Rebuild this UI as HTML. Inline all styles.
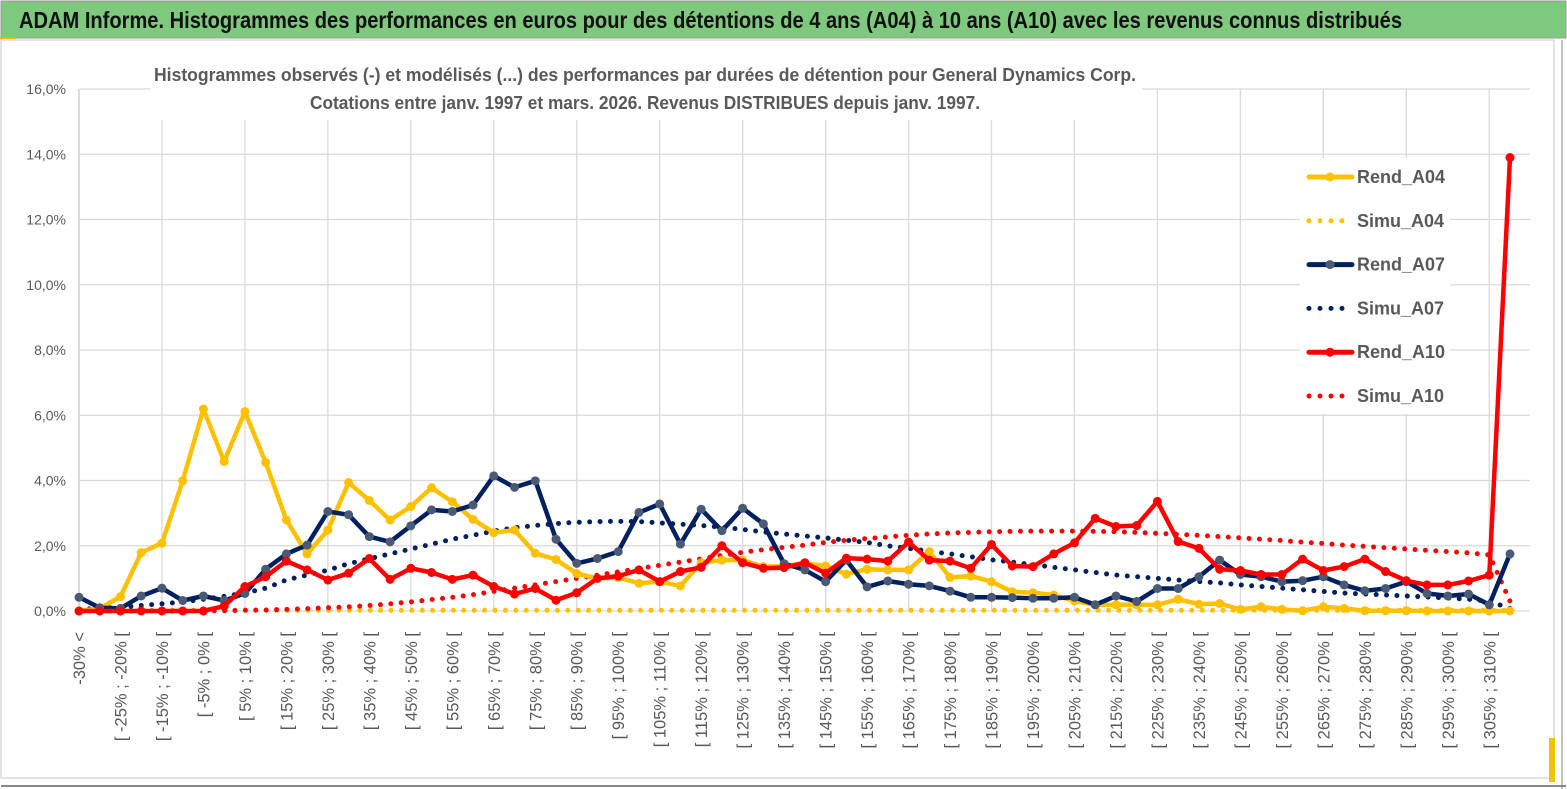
<!DOCTYPE html>
<html><head><meta charset="utf-8"><style>
html,body{margin:0;padding:0;background:#fff;width:1567px;height:789px;overflow:hidden}
svg{display:block;font-family:"Liberation Sans",sans-serif}
</style></head><body>
<svg id="chart" width="1567" height="789" viewBox="0 0 1567 789">
<rect x="0" y="0" width="1567" height="789" fill="#fff"/>
<rect x="1" y="1" width="1565" height="37" fill="#7ec97e" stroke="#9a9a9a" stroke-width="1"/>
<rect x="0" y="37" width="16" height="3" fill="#f2b800"/>
<text x="19" y="28" font-size="23" font-weight="bold" fill="#111" textLength="1383" lengthAdjust="spacingAndGlyphs">ADAM Informe. Histogrammes des performances en euros pour des détentions de 4 ans (A04) à 10 ans (A10) avec les revenus connus distribués</text>
<rect x="1" y="40" width="1553" height="738" fill="none" stroke="#e3e3e3" stroke-width="2"/>
<line x1="1" y1="786" x2="1566" y2="786" stroke="#888" stroke-width="2"/>
<line x1="1562" y1="40" x2="1562" y2="789" stroke="#888" stroke-width="1"/>
<rect x="1549" y="738" width="6" height="44" fill="#f2c400"/>
<g id="grid"></g>
<g id="axes"></g>
<rect x="150" y="58" width="992" height="62" fill="#fff"/>
<text x="645" y="81" text-anchor="middle" font-size="18" font-weight="bold" fill="#595959" textLength="982" lengthAdjust="spacingAndGlyphs">Histogrammes observés (-) et modélisés (...) des performances par durées de détention pour General Dynamics Corp.</text>
<text x="645" y="109" text-anchor="middle" font-size="18" font-weight="bold" fill="#595959" textLength="670" lengthAdjust="spacingAndGlyphs">Cotations entre janv. 1997 et mars. 2026. Revenus DISTRIBUES depuis janv. 1997.</text>
<g id="series"></g>
<g id="legend"></g>
</svg>
<script>
const categories = ["-30% <"];
for (let a = -30; a < 310; a += 5) categories.push("[ " + a + "% ; " + (a + 5) + "% [");
categories.push("> 310%");
const yTicks = [0, 2, 4, 6, 8, 10, 12, 14, 16];
const yTickLabels = ["0,0%", "2,0%", "4,0%", "6,0%", "8,0%", "10,0%", "12,0%", "14,0%", "16,0%"];
const rendA04 = [0,0.08,0.44,1.79,2.08,3.99,6.19,4.58,6.11,4.55,2.79,1.75,2.48,3.94,3.39,2.79,3.2,3.78,3.35,2.81,2.4,2.48,1.77,1.58,1.15,1.0,1.03,0.85,0.9,0.77,1.48,1.56,1.56,1.36,1.37,1.46,1.38,1.13,1.28,1.26,1.26,1.82,1.03,1.07,0.9,0.59,0.56,0.49,0.31,0.19,0.19,0.19,0.19,0.36,0.21,0.23,0.05,0.13,0.05,0.01,0.13,0.08,0.01,0.01,0.01,0,0,0,0,0];
const simuA04 = [0.02,0.02,0.02,0.02,0.02,0.02,0.02,0.02,0.02,0.02,0.02,0.02,0.02,0.02,0.02,0.02,0.02,0.02,0.02,0.02,0.02,0.02,0.02,0.02,0.02,0.02,0.02,0.02,0.02,0.02,0.02,0.02,0.02,0.02,0.02,0.02,0.02,0.02,0.02,0.02,0.02,0.02,0.02,0.02,0.02,0.02,0.02,0.02,0.02,0.02,0.02,0.02,0.02,0.02,0.02,0.02,0.02,0.02,0.02,0.02,0.02,0.02,0.02,0.02,0.02,0.02,0.02,0.02,0.02,0.02];
const rendA07 = [0.42,0.1,0.08,0.46,0.7,0.32,0.46,0.32,0.54,1.28,1.75,2.02,3.05,2.95,2.28,2.12,2.61,3.1,3.05,3.25,4.14,3.79,3.99,2.2,1.46,1.61,1.82,3.02,3.28,2.05,3.12,2.46,3.15,2.67,1.45,1.26,0.9,1.56,0.74,0.92,0.82,0.77,0.61,0.42,0.42,0.41,0.39,0.39,0.42,0.19,0.46,0.29,0.69,0.69,1.05,1.56,1.12,1.05,0.9,0.93,1.05,0.8,0.62,0.69,0.9,0.54,0.46,0.52,0.19,1.75];
const simuA07 = [0.05,0.08,0.12,0.17,0.22,0.28,0.36,0.45,0.55,0.7,0.95,1.1,1.25,1.45,1.6,1.75,1.9,2.05,2.2,2.32,2.45,2.55,2.62,2.68,2.72,2.74,2.75,2.74,2.7,2.66,2.62,2.57,2.5,2.42,2.36,2.3,2.24,2.17,2.1,2.0,1.92,1.83,1.75,1.66,1.57,1.5,1.42,1.34,1.26,1.18,1.1,1.05,1.0,0.95,0.9,0.86,0.8,0.75,0.7,0.65,0.6,0.55,0.52,0.49,0.46,0.43,0.4,0.36,0.3,0.08];
const rendA10 = [0,0,0,0,0,0,0,0.15,0.75,1.05,1.53,1.26,0.95,1.16,1.61,0.97,1.31,1.18,0.97,1.1,0.75,0.52,0.69,0.33,0.56,1.0,1.07,1.26,0.9,1.21,1.34,2.0,1.48,1.31,1.33,1.48,1.16,1.62,1.59,1.53,2.11,1.56,1.53,1.31,2.04,1.38,1.36,1.75,2.09,2.84,2.59,2.62,3.36,2.13,1.92,1.28,1.24,1.12,1.12,1.59,1.24,1.36,1.59,1.21,0.93,0.8,0.8,0.92,1.1,13.9];
const simuA10 = [0,0,0,0,0,0,0.01,0.01,0.02,0.03,0.05,0.07,0.1,0.13,0.17,0.22,0.28,0.35,0.42,0.5,0.6,0.7,0.8,0.9,1.0,1.1,1.2,1.3,1.4,1.5,1.6,1.7,1.8,1.88,1.95,2.02,2.1,2.17,2.22,2.27,2.32,2.36,2.39,2.41,2.43,2.44,2.45,2.45,2.45,2.44,2.43,2.41,2.38,2.35,2.32,2.28,2.24,2.2,2.16,2.11,2.07,2.02,1.98,1.94,1.9,1.86,1.82,1.78,1.72,0.3];

const NS = "http://www.w3.org/2000/svg";
const X0 = 79, X1 = 1510, Y0 = 611, Y1 = 89, YMAX = 16;
function xScale(i) { return X0 + (X1 - X0) * i / (categories.length - 1); }
function yScale(v) { return Y0 - (Y0 - Y1) * v / YMAX; }
function mk(tag, attrs, parent) {
  const e = document.createElementNS(NS, tag);
  for (const k in attrs) e.setAttribute(k, attrs[k]);
  parent.appendChild(e);
  return e;
}
const grid = document.getElementById("grid");
const axes = document.getElementById("axes");
yTicks.forEach((t, k) => {
  const ln = mk("line", {x1: X0, x2: 1530, y1: yScale(t), y2: yScale(t), stroke: "#d9d9d9", "stroke-width": 1.3}, grid);
  
  
  const tx = mk("text", {x: 66, y: yScale(t) + 5, "text-anchor": "end", "font-size": 14, fill: "#595959"}, axes);
  tx.textContent = yTickLabels[k];
  
  
});
for (let i = 0; i < categories.length; i += 4) {
  const ln = mk("line", {x1: xScale(i), x2: xScale(i), y1: Y1, y2: Y0, stroke: "#d9d9d9", "stroke-width": 1.3}, grid);
  
  
}
const yAxis = mk("line", {x1: X0, x2: X0, y1: Y1, y2: Y0, stroke: "#d0d0d0", "stroke-width": 1.3}, axes);


categories.forEach((c, i) => {
  if (i % 2) return;
  const x = xScale(i) + 6, y = 632;
  const tx = mk("text", {x: x, y: y, "text-anchor": "end", "font-size": 16.5, fill: "#595959", transform: "rotate(-90 " + x + " " + y + ")"}, axes);
  tx.textContent = c;
  
  
});

const seriesG = document.getElementById("series");
function drawDotted(vals, color, name) {
  const d = vals.map((v, i) => (i ? "L" : "M") + xScale(i).toFixed(1) + " " + yScale(v).toFixed(1)).join(" ");
  const p = mk("path", {d: d, fill: "none", stroke: color, "stroke-width": 5, "stroke-linecap": "round", "stroke-dasharray": "0 10.4"}, seriesG);
  
  
}
function drawSolid(vals, color, mfill, name) {
  const d = vals.map((v, i) => (i ? "L" : "M") + xScale(i).toFixed(1) + " " + yScale(v).toFixed(1)).join(" ");
  const p = mk("path", {d: d, fill: "none", stroke: color, "stroke-width": 4.5, "stroke-linejoin": "round"}, seriesG);
  
  
  vals.forEach((v, i) => {
    const c = mk("circle", {cx: xScale(i), cy: yScale(v), r: 4.5, fill: mfill}, seriesG);
    
    
  });
}
drawDotted(simuA04, "#ffc000", "simu-a04-line");
drawDotted(simuA07, "#002060", "simu-a07-line");
drawDotted(simuA10, "#ff0000", "simu-a10-line");
drawSolid(rendA04, "#ffc000", "#ffc000", "rend-a04-line");
drawSolid(rendA07, "#002060", "#4a5a75", "rend-a07-line");
drawSolid(rendA10, "#ff0000", "#ff0000", "rend-a10-line");

const legend = document.getElementById("legend");
const lbg = mk("rect", {x: 1300, y: 158, width: 150, height: 256, fill: "#fff"}, legend);


const legItems = [["Rend_A04", "#ffc000", "#ffc000", false], ["Simu_A04", "#ffc000", "", true], ["Rend_A07", "#002060", "#4a5a75", false], ["Simu_A07", "#002060", "", true], ["Rend_A10", "#ff0000", "#ff0000", false], ["Simu_A10", "#ff0000", "", true]];
legItems.forEach((it, k) => {
  const y = 177 + k * 43.8;
  if (it[3]) {
    const l = mk("line", {x1: 1309, x2: 1353, y1: y, y2: y, stroke: it[1], "stroke-width": 5, "stroke-linecap": "round", "stroke-dasharray": "0 11"}, legend);
    
    
  } else {
    const l = mk("line", {x1: 1309, x2: 1352, y1: y, y2: y, stroke: it[1], "stroke-width": 5, "stroke-linecap": "round"}, legend);
    
    
    const c = mk("circle", {cx: 1330, cy: y, r: 4.5, fill: it[2]}, legend);
    
    
  }
  const t = mk("text", {x: 1357, y: y + 6, "font-size": 18, "font-weight": "bold", fill: "#595959"}, legend);
  t.textContent = it[0];
  
  
});
</script>
</body></html>
